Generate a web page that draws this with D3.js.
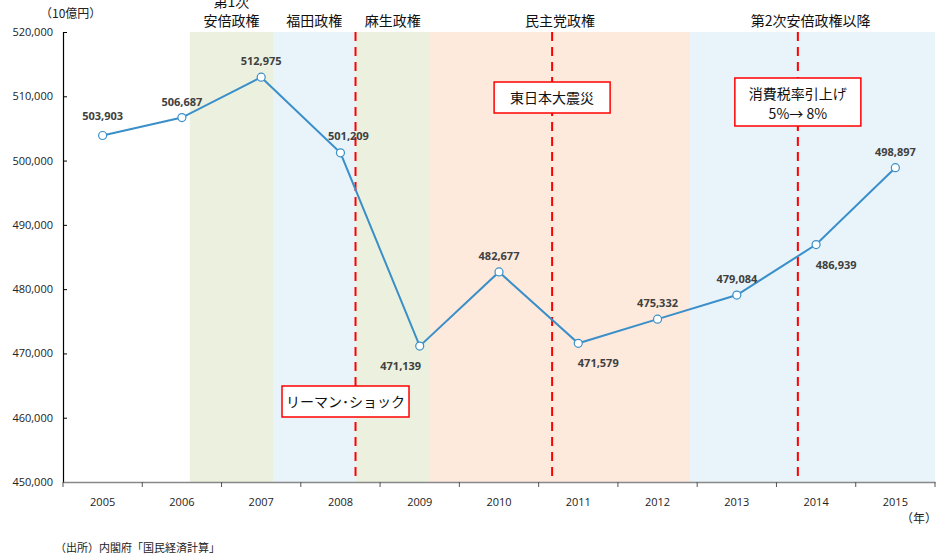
<!DOCTYPE html>
<html>
<head>
<meta charset="utf-8">
<script src="https://cdn.jsdelivr.net/npm/d3@7"></script>
<style>
  body { margin: 0; background: #fff; }
  svg text { font-family: "Noto Sans CJK JP", "Noto Sans", sans-serif; }
</style>
</head>
<body>
<div id="chart"></div>
<script>
// 名目GDP (10億円)
const years = ['2005', '2006', '2007', '2008', '2009', '2010', '2011', '2012', '2013', '2014', '2015'];
const gdp = [503903, 506687, 512975, 501209, 471139, 482677, 471579, 475332, 479084, 486939, 498897];
// label placement per point
const labelPos = ['ul', 'u', 'u', 'ur', 'dl', 'u', 'dr', 'u', 'u', 'dr', 'u'];
const yTicks = [450000, 460000, 470000, 480000, 490000, 500000, 510000, 520000];

// eras, positions in years (band start = year)
const eraNames = [['第1次', '安倍政権'], ['福田政権'], ['麻生政権'], ['民主党政権'], ['第2次安倍政権以降']];
const eraStart = [2006.6, 2007.65, 2008.69, 2009.63, 2012.91];
const eraEnd = [2007.65, 2008.69, 2009.63, 2012.91, 2016];
const eraColors = ['#EBF1DE', '#E8F3FA', '#EBF1DE', '#FDEADC', '#E8F3FA'];

// events (red dashed lines)
const eventPos = [2008.69, 2011.17, 2014.27];
const eventText = [['リーマン･ショック'], ['東日本大震災'], ['消費税率引上げ', '5%→ 8%']];
const eventBoxY = [386, 82, 78];
const eventBoxW = [127, 116, 126];

const width = 940, height = 559;
const margin = { left: 63, right: 5, top: 32, bottom: 77 };

const svg = d3.select('#chart').append('svg')
  .attr('width', width).attr('height', height);

const x = d3.scaleBand().domain(years).range([margin.left, width - margin.right]).padding(0);
const xp = d3.scaleLinear().domain([2005, 2016]).range([margin.left, width - margin.right]);
const y = d3.scaleLinear().domain([450000, 520000]).range([height - margin.bottom, margin.top]);

const plotTop = margin.top, plotBottom = height - margin.bottom;

// era backgrounds
svg.append('g').selectAll('rect')
  .data(eraNames)
  .join('rect')
  .attr('x', (d, i) => xp(eraStart[i]))
  .attr('width', (d, i) => xp(eraEnd[i]) - xp(eraStart[i]))
  .attr('y', plotTop)
  .attr('height', plotBottom - plotTop)
  .attr('fill', (d, i) => eraColors[i]);

// era labels
svg.append('g').selectAll('text')
  .data(eraNames)
  .join('text')
  .attr('text-anchor', 'middle')
  .attr('font-size', 14)
  .attr('fill', '#111')
  .each(function(d, i) {
    const t = d3.select(this);
    const cx = (xp(eraStart[i]) + xp(Math.min(eraEnd[i], 2015.95))) / 2;
    d.forEach((line, j) => {
      t.append('tspan')
        .attr('x', cx)
        .attr('y', 26 - (d.length - 1 - j) * 19)
        .text(line);
    });
  });

// y axis
const yAxis = svg.append('g')
  .attr('transform', `translate(${margin.left},0)`)
  .call(d3.axisLeft(y).tickValues(yTicks).tickSize(-4).tickPadding(10).tickFormat(d3.format(',')));
yAxis.select('.domain').attr('stroke', '#000').attr('stroke-width', 1.2);
yAxis.selectAll('.tick line').attr('stroke', '#000');
yAxis.selectAll('text').attr('font-size', 11).attr('fill', '#222')
  .style('font-family', '"Open Sans", "Noto Sans", sans-serif');

// x axis
const xAxis = svg.append('g')
  .attr('transform', `translate(0,${plotBottom})`)
  .call(d3.axisBottom(x).tickSize(0).tickPadding(16));
xAxis.select('.domain').attr('stroke', '#888').attr('stroke-width', 1.5);
xAxis.selectAll('text').attr('font-size', 11).attr('fill', '#222')
  .style('font-family', '"Open Sans", "Noto Sans", sans-serif');
svg.append('g').selectAll('line')
  .data(years.concat(['end']))
  .join('line')
  .attr('x1', (d, i) => margin.left + i * x.bandwidth())
  .attr('x2', (d, i) => margin.left + i * x.bandwidth())
  .attr('y1', plotBottom).attr('y2', plotBottom + 5)
  .attr('stroke', '#555');

// event lines
svg.append('g').selectAll('line')
  .data(eventPos)
  .join('line')
  .attr('x1', d => xp(d)).attr('x2', d => xp(d))
  .attr('y1', plotTop).attr('y2', plotBottom)
  .attr('stroke', '#FF0000')
  .attr('stroke-width', 2)
  .attr('stroke-dasharray', '9,6');

// series line
const cxOf = i => x(years[i]) + x.bandwidth() / 2;
const line = d3.line()
  .x((d, i) => cxOf(i))
  .y(d => y(d));
svg.append('path')
  .datum(gdp)
  .attr('d', line)
  .attr('fill', 'none')
  .attr('stroke', '#3A8FC9')
  .attr('stroke-width', 2);

svg.append('g').selectAll('circle')
  .data(gdp)
  .join('circle')
  .attr('cx', (d, i) => cxOf(i))
  .attr('cy', d => y(d))
  .attr('r', 4)
  .attr('fill', '#fff')
  .attr('stroke', '#3A8FC9')
  .attr('stroke-width', 1.2);

// data labels
const off = { u: [0, -12], ul: [0, -15], ur: [8, -13], dl: [-19, 24], dr: [20, 24] };
svg.append('g').selectAll('text')
  .data(gdp)
  .join('text')
  .attr('x', (d, i) => cxOf(i) + off[labelPos[i]][0])
  .attr('y', (d, i) => y(d) + off[labelPos[i]][1])
  .attr('text-anchor', 'middle')
  .attr('font-size', 11)
  .attr('font-weight', 'bold')
  .attr('fill', '#404040')
  .style('font-family', '"Open Sans", "Noto Sans", sans-serif')
  .text(d => d3.format(',')(d));

// event boxes
const boxes = svg.append('g').selectAll('g')
  .data(eventText)
  .join('g')
  .attr('transform', (d, i) => `translate(${xp(eventPos[i]) - eventBoxW[i] / 2 + (i === 0 ? -10 : 0)},${eventBoxY[i]})`);
boxes.append('rect')
  .attr('width', (d, i) => eventBoxW[i])
  .attr('height', d => d.length === 1 ? 31 : 48)
  .attr('fill', '#fff')
  .attr('stroke', '#FF0000')
  .attr('stroke-width', 1.5);
boxes.each(function(d, i) {
  const g = d3.select(this);
  d.forEach((t, j) => {
    g.append('text')
      .attr('x', eventBoxW[i] / 2)
      .attr('y', 21 + j * 20)
      .attr('text-anchor', 'middle')
      .attr('font-size', 14)
      .attr('fill', '#111')
      .text(t);
  });
});

// unit labels
svg.append('text').attr('x', 40).attr('y', 18).attr('font-size', 12).attr('fill', '#222').text('（10億円）');
svg.append('text').attr('x', 937).attr('y', 523).attr('text-anchor', 'end').attr('font-size', 12).attr('fill', '#222').text('（年）');
svg.append('text').attr('x', 55).attr('y', 552).attr('font-size', 11).attr('fill', '#222').text('（出所）内閣府「国民経済計算」');
</script>
</body>
</html>
